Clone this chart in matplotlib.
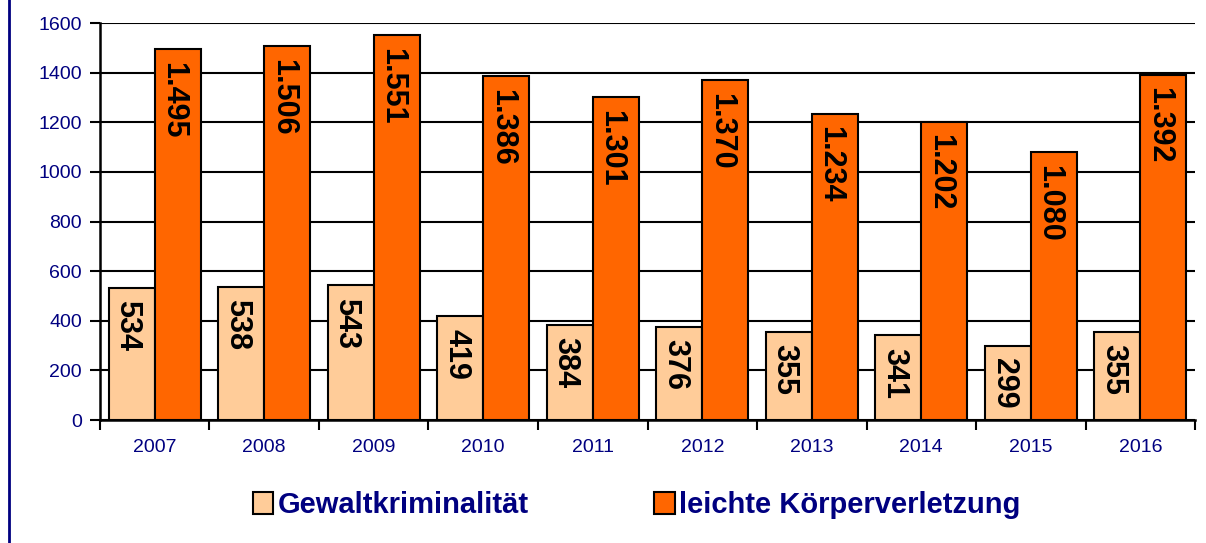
import matplotlib
matplotlib.use('Agg')
import matplotlib.pyplot as plt
from matplotlib.lines import Line2D
from matplotlib.patches import Patch
import numpy as np

years = ['2007', '2008', '2009', '2010', '2011', '2012', '2013', '2014', '2015', '2016']
gewalt = [534, 538, 543, 419, 384, 376, 355, 341, 299, 355]
koerper = [1495, 1506, 1551, 1386, 1301, 1370, 1234, 1202, 1080, 1392]
series_names = ['Gewaltkriminalität', 'leichte Körperverletzung']

LIGHT = '#ffcc99'
ORANGE = '#ff6600'
NAVY = '#000080'

plt.rcParams['font.family'] = ['Liberation Sans', 'DejaVu Sans']


def de_fmt(v):
    return '{:,}'.format(v).replace(',', '.')


fig = plt.figure(figsize=(12.06, 5.43), dpi=100)
ax = fig.add_axes([0.0829, 0.2265, 0.908, 0.7311])

x = np.arange(len(years))
w = 0.42
b1 = ax.bar(x - w / 2, gewalt, w, color=LIGHT, edgecolor='black', linewidth=1.5, zorder=3)
b2 = ax.bar(x + w / 2, koerper, w, color=ORANGE, edgecolor='black', linewidth=1.5, zorder=3)

for bars, vals in ((b1, gewalt), (b2, koerper)):
    for r, v in zip(bars, vals):
        ax.annotate(de_fmt(v), (r.get_x() + r.get_width() / 2, v), xytext=(-3, -9),
                    textcoords='offset points', rotation=-90, ha='center', va='top',
                    fontsize=22, fontweight='bold', color='black', zorder=4)

ax.set_xlim(-0.5, len(years) - 0.5)
ax.set_ylim(0, 1600)
ax.set_yticks(range(0, 1601, 200))
ax.yaxis.grid(True, color='black', linewidth=1.5, zorder=0)
ax.set_axisbelow(True)

ax.set_xticks(x)
ax.set_xticklabels(years)
ax.set_xticks(np.arange(-0.5, len(years), 1.0), minor=True)
ax.tick_params(axis='x', which='major', length=0, pad=14, labelsize=14, labelcolor=NAVY)
ax.tick_params(axis='x', which='minor', length=7, width=1.5, direction='out', color='black')
ax.tick_params(axis='y', length=7, width=1.5, direction='out', pad=6, labelsize=14, labelcolor=NAVY)

for s in ('top', 'right'):
    ax.spines[s].set_visible(False)
for s in ('left', 'bottom'):
    ax.spines[s].set_linewidth(1.8)

handles = [Patch(facecolor=LIGHT, edgecolor='black', linewidth=1.5),
           Patch(facecolor=ORANGE, edgecolor='black', linewidth=1.5)]
leg = fig.legend(handles, series_names, loc='center', bbox_to_anchor=(0.528, 0.07), ncol=2,
                 frameon=False, columnspacing=4.3, handlelength=0.7, handleheight=0.8,
                 handletextpad=0.15, prop={'size': 21, 'weight': 'bold'})
for t in leg.get_texts():
    t.set_color(NAVY)

fig.add_artist(Line2D([0.0075, 0.0075], [0, 1], transform=fig.transFigure, color=NAVY, linewidth=2))

fig.savefig('out.png', dpi=100)
